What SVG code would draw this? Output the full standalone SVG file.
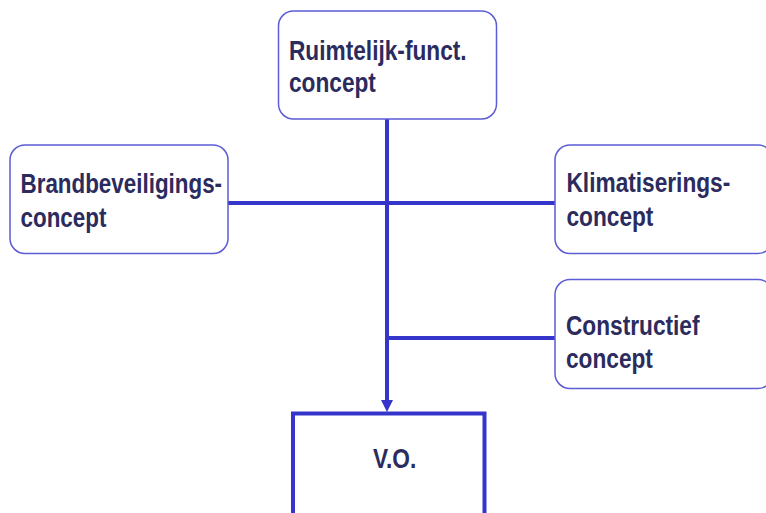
<svg xmlns="http://www.w3.org/2000/svg" width="766" height="513" viewBox="0 0 766 513">
<style>
.box{fill:#ffffff;stroke:#5c5cd6;stroke-width:1.5}
.vo{fill:#ffffff;stroke:#3535cc;stroke-width:4}
.ln{stroke:#3535cc;stroke-width:4;fill:none}
.t{font-family:"Liberation Sans",Arial,sans-serif;font-weight:bold;font-size:28px;fill:#2b2b5e}
</style>
<rect width="766" height="513" fill="#ffffff"/>
<g id="connectors">
<line class="ln" x1="387" y1="119" x2="387" y2="402"/>
<line class="ln" x1="228" y1="203" x2="555" y2="203"/>
<line class="ln" x1="387" y1="338" x2="555" y2="338"/>
<polygon points="381,400 393,400 387,412" fill="#3535cc"/>
</g>
<g id="node-ruimtelijk">
<rect class="box" x="278.5" y="11" width="218" height="108" rx="15"/>
<g transform="translate(289,0) scale(0.81,1)"><text class="t" x="0" y="60">Ruimtelijk-funct.</text><text class="t" x="0" y="92">concept</text></g>
</g>
<g id="node-brand">
<rect class="box" x="10" y="145" width="218" height="108.5" rx="15"/>
<g transform="translate(20.5,0) scale(0.80,1)"><text class="t" x="0" y="193">Brandbeveiligings-</text><text class="t" x="0" y="227">concept</text></g>
</g>
<g id="node-klimaat">
<rect class="box" x="555" y="145" width="218" height="108.5" rx="15"/>
<g transform="translate(566.5,0) scale(0.81,1)"><text class="t" x="0" y="192">Klimatiserings-</text><text class="t" x="0" y="226">concept</text></g>
</g>
<g id="node-constructief">
<rect class="box" x="555" y="279.5" width="218" height="109" rx="15"/>
<g transform="translate(566,0) scale(0.81,1)"><text class="t" x="0" y="335">Constructief</text><text class="t" x="0" y="368">concept</text></g>
</g>
<g id="node-vo">
<rect class="vo" x="293" y="413.5" width="191.5" height="110"/>
<g transform="translate(373,0) scale(0.81,1)"><text class="t" x="0" y="468">V.O.</text></g>
</g>
</svg>
